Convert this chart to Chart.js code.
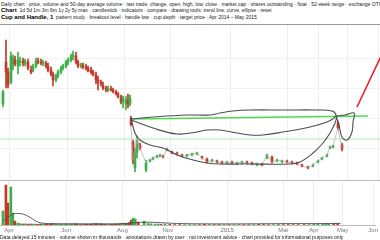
<!DOCTYPE html>
<html>
<head>
<meta charset="utf-8">
<script src="https://cdn.jsdelivr.net/npm/chart.js@4.4.1/dist/chart.umd.min.js"></script>
<style>
html, body { margin: 0; padding: 0; background: #fff; width: 380px; height: 240px; overflow: hidden; font-family: "Liberation Sans", Arial, sans-serif; }
#head { position: absolute; left: 0; top: 0; width: 380px; height: 24px; border-bottom: 1px solid #999; overflow: hidden; }
.row { position: absolute; left: 1px; white-space: nowrap; font-size: 5px; line-height: 6px; color: #222; }
.row b { color: #000; font-size: 6px; }
#pricebox { position: absolute; left: 0; top: 25px; width: 380px; height: 155px; }
#sep { position: absolute; left: 0; top: 180px; width: 380px; height: 1px; background: #bbb; }
#volbox { position: absolute; left: 0; top: 181px; width: 380px; height: 59px; }
#foot { position: absolute; left: 0; top: 235px; width: 380px; white-space: nowrap; overflow: hidden; font-size: 5px; line-height: 5px; color: #111; }
</style>
</head>
<body>
<div id="head">
  <div class="row" style="top:1px">Daily chart &middot; price, volume and 50-day average volume &middot; last trade, change, open, high, low, close &middot; market cap &middot; shares outstanding &middot; float &middot; 52-week range &middot; exchange OTC</div>
  <div class="row" style="top:7px"><b>Chart</b> &nbsp;1d 5d 1m 3m 6m 1y 2y 5y max &middot; candlestick &middot; indicators &middot; compare &middot; drawing tools: trend line, curve, ellipse &middot; reset</div>
  <div class="row" style="top:14px"><b>Cup and Handle, 1</b> &nbsp;pattern study &middot; breakout level &middot; handle low &middot; cup depth &middot; target price &middot; Apr 2014 &ndash; May 2015</div>
</div>
<div id="pricebox"><canvas id="priceChart"></canvas></div>
<div id="sep"></div>
<div id="volbox"><canvas id="volChart"></canvas></div>
<div id="foot">Data delayed 15 minutes &middot; volume shown in thousands &middot; annotations drawn by user &middot; not investment advice &middot; chart provided for informational purposes only</div>

<script>
// candles: position on the time axis and OHLC prices
var candleT = [3, 6, 8, 11, 13, 15, 18, 20, 23, 25, 28, 31, 33, 36, 38, 41, 43, 46, 48, 51,
    53, 56, 58, 61, 63, 66, 68, 71, 73, 76, 78, 81, 83, 86, 88, 91, 93, 96, 98, 101,
    103, 106, 108, 111, 113, 116, 118, 121, 123, 126, 128, 130,
    131, 133, 135, 137, 140, 146, 150, 153, 157, 160, 163, 167, 172, 177, 182, 187, 192, 197,
    202, 207, 212, 217, 222, 227, 232, 237, 242, 247, 252, 257, 262, 267, 272, 277, 282, 287,
    292, 297, 302, 308, 313, 318, 322, 327, 330, 333, 338, 342];
var openP = [7.6, 11.8, 10.8, 9.8, 11.6, 12.0, 11.4, 11.8, 11.9, 11.6, 11.8, 11.0, 11.0, 11.4, 11.9, 11.8, 11.7, 11.7, 11.4, 11.0,
    10.6, 10.0, 10.4, 10.8, 11.2, 11.4, 11.8, 12.0, 12.3, 12.4, 11.8, 11.4, 11.5, 11.3, 11.2, 11.0, 10.8, 10.5, 10.0, 9.8,
    9.4, 9.2, 9.0, 9.1, 9.0, 8.8, 8.6, 8.3, 7.8, 7.6, 8.0, 7.6,
    6.2, 3.8, 1.2, 2.8, 3.5, 1.0, 1.9, 2.1, 2.3, 2.4, 2.4, 3.0, 2.8, 2.7, 2.5, 2.4,
    2.5, 2.6, 2.3, 2.1, 1.9, 1.9, 1.8, 1.7, 1.8, 1.6, 1.7, 1.8, 1.7, 1.5, 1.6, 2.2, 2.3, 1.9, 1.8, 1.9,
    1.8, 1.7, 1.5, 1.3, 1.4, 1.8, 2.1, 2.4, 3.2, 3.3, 5.7, 3.5];
var highP = [9.0, 14.0, 11.2, 12.8, 12.5, 12.4, 12.8, 12.3, 12.2, 12.1, 12.1, 11.4, 11.6, 12.2, 12.2, 12.1, 12.0, 11.9, 11.7, 11.3,
    10.8, 10.6, 11.0, 11.4, 11.6, 12.0, 12.2, 12.6, 12.9, 12.8, 12.0, 11.7, 11.7, 11.6, 11.4, 11.3, 11.0, 10.8, 10.4, 10.0,
    9.8, 9.4, 9.4, 9.4, 9.2, 9.0, 8.8, 8.5, 8.4, 8.4, 8.6, 8.5,
    6.4, 4.0, 3.2, 4.4, 3.7, 2.0, 2.1, 2.3, 2.5, 2.6, 2.5, 3.2, 2.9, 2.8, 2.6, 2.6,
    2.7, 2.8, 2.4, 2.2, 2.1, 2.0, 1.9, 1.9, 1.9, 1.8, 1.9, 1.9, 1.8, 1.7, 1.7, 2.6, 2.4, 2.1, 2.0, 2.0,
    1.9, 1.8, 1.6, 1.4, 1.6, 2.0, 2.3, 2.6, 3.4, 3.5, 5.9, 3.7];
var lowP = [7.3, 9.2, 9.2, 9.6, 11.0, 11.4, 10.6, 11.4, 11.4, 11.4, 11.0, 10.6, 10.8, 11.2, 11.6, 11.5, 11.4, 11.2, 10.8, 10.4,
    9.4, 9.8, 10.2, 10.6, 11.0, 11.2, 11.5, 11.8, 12.0, 11.6, 11.2, 11.2, 11.1, 11.0, 10.8, 10.6, 10.4, 9.6, 9.0, 9.4,
    9.0, 8.8, 8.8, 8.9, 8.7, 8.5, 8.2, 7.6, 7.2, 7.0, 7.2, 7.4,
    5.4, 1.6, 0.8, 2.2, 3.0, 0.8, 1.8, 2.0, 2.2, 2.3, 2.2, 2.9, 2.6, 2.5, 2.3, 2.3,
    2.4, 2.5, 2.1, 1.7, 1.8, 1.7, 1.6, 1.6, 1.6, 1.5, 1.6, 1.6, 1.5, 1.4, 1.4, 2.1, 1.7, 1.8, 1.7, 1.7,
    1.6, 1.5, 1.3, 1.1, 1.3, 1.7, 2.0, 2.3, 3.1, 3.2, 5.0, 2.9];
var closeP = [8.8, 10.8, 9.5, 12.4, 12.2, 11.6, 12.0, 11.9, 11.7, 11.9, 11.2, 10.8, 11.4, 11.9, 11.8, 11.7, 11.8, 11.4, 11.0, 10.6,
    10.0, 10.4, 10.8, 11.2, 11.4, 11.8, 12.0, 12.3, 12.5, 11.8, 11.4, 11.5, 11.3, 11.2, 10.9, 10.8, 10.5, 10.0, 9.8, 9.6,
    9.2, 9.0, 9.2, 9.0, 8.8, 8.6, 8.3, 7.8, 8.2, 8.0, 7.6, 8.2,
    5.5, 2.0, 2.8, 4.0, 3.2, 1.7, 2.0, 2.2, 2.4, 2.5, 2.3, 3.1, 2.7, 2.6, 2.4, 2.5,
    2.6, 2.7, 2.2, 1.8, 2.0, 1.8, 1.7, 1.8, 1.7, 1.7, 1.8, 1.7, 1.6, 1.6, 1.5, 2.5, 1.8, 2.0, 1.9, 1.8,
    1.7, 1.6, 1.4, 1.2, 1.5, 1.9, 2.2, 2.5, 3.3, 3.4, 5.2, 3.1];
var volume = [14, 40, 22, 38, 12, 4, 2, 1.5, 1, 1.2, 1, 0.8, 1, 0.8, 0.6, 0.8, 0.6, 0.7, 0.8, 1,
    1.5, 0.8, 0.6, 0.7, 0.6, 0.8, 0.7, 0.9, 1, 1.2, 0.8, 0.6, 0.5, 0.6, 0.7, 0.6, 0.8, 1.2, 1.4, 0.8,
    0.9, 0.7, 0.6, 0.5, 0.6, 0.8, 0.9, 1.2, 1.6, 1.8, 1.4, 1.6,
    2.5, 5, 7, 6, 3, 4, 1.5, 1.2, 1, 0.8, 0.6, 1, 0.6, 0.5, 0.4, 0.5, 0.4, 0.3, 0.4, 0.6,
    0.4, 0.3, 0.4, 0.3, 0.4, 0.5, 0.4, 0.3, 0.4, 0.3, 0.6, 0.8, 0.5, 0.4, 0.6, 0.5, 0.4, 0.3,
    0.3, 0.4, 0.3, 0.6, 0.8, 0.9, 1.2, 1.0, 1.5, 1.2];

// average volume curve
var volAvgT = [4, 7, 10, 13, 18, 23, 28, 33, 38, 43, 50, 70, 100, 125, 135, 150, 165, 180, 220, 260, 290, 320, 345];
var volAvg = [4, 7, 9, 11, 11.5, 11, 9, 6, 3, 1.8, 1.4, 1.2, 1.2, 1.3, 2.2, 2.8, 2.2, 1.5, 1.1, 1.2, 1.4, 1.4, 1.6];

// hand drawn annotations (time, price)
var ellipseT = [131, 153, 187, 210, 220, 233, 250, 283, 317, 332, 336, 334, 327, 310, 283, 263, 250, 237, 220, 207, 197, 177, 153, 131];
var ellipseP = [6.1, 6.3, 6.5, 6.5, 6.7, 6.9, 7.0, 7.0, 7.0, 6.9, 6.5, 6.2, 5.8, 5.3, 4.8, 4.5, 4.5, 4.7, 5.0, 5.0, 4.8, 4.6, 5.2, 6.0];
var cupT = [131, 135, 140, 150, 163, 177, 193, 207, 220, 250, 290, 300, 313, 323, 330, 335, 337];
var cupP = [6.2, 4.7, 4.0, 3.5, 3.2, 2.5, 2.0, 1.7, 1.6, 1.6, 1.6, 1.8, 2.7, 3.7, 4.7, 5.7, 6.4];
var handleT = [336, 339, 342, 347, 352, 353, 354, 345, 336];
var handleP = [6.4, 5.5, 4.3, 4.0, 4.8, 5.8, 6.7, 6.5, 6.4];
var resistT = [131, 368];
var resistP = [6.1, 6.4];
var supportT = [0, 380];
var supportP = [4.1, 4.1];
var breakoutT = [357, 384];
var breakoutP = [7.3, 13.0];

// time axis labels
var tickT = [9, 67, 124, 170, 230, 287, 318, 347, 378];
var tickLabels = ['Apr', 'Jun', 'Aug', 'Nov', '2015', 'Mar', 'Apr', 'May', 'Jun'];
var priceGrid = [3.2, 6.2, 9.2, 12.2];

var GREEN = '#3fae49';
var RED = '#c0392b';
var GRAY = '#4d4d4d';

function pts(ts, vs) {
    return ts.map(function (t, i) { return { x: t, y: vs[i] }; });
}
var candleColors = candleT.map(function (t, i) { return closeP[i] >= openP[i] ? GREEN : RED; });

function lineSet(data, color, width, tension) {
    return {
        type: 'line', data: data, borderColor: color, borderWidth: width,
        pointRadius: 0, tension: tension, fill: false
    };
}

var xScale = {
    type: 'linear', min: 0, max: 380, offset: false,
    grid: { color: '#efefef', drawTicks: false, offset: false },
    border: { display: false },
    ticks: { display: false, autoSkip: false, maxRotation: 0 },
    afterBuildTicks: function (scale) {
        scale.ticks = tickT.map(function (v) { return { value: v }; });
    },
    afterFit: function (scale) { scale.height = 0; }
};

Chart.defaults.animation = false;
Chart.defaults.font.family = '"Liberation Sans", Arial, sans-serif';

new Chart(document.getElementById('priceChart').getContext('2d'), {
    type: 'bar',
    data: {
        datasets: [
            lineSet(pts(breakoutT, breakoutP), '#e8212f', 1.6, 0),
            lineSet(pts(handleT, handleP), GRAY, 1.1, 0.4),
            lineSet(pts(cupT, cupP), GRAY, 1.1, 0.4),
            lineSet(pts(ellipseT, ellipseP), GRAY, 1.1, 0.4),
            lineSet(pts(resistT, resistP), '#52d652', 1.6, 0),
            lineSet(pts(supportT, supportP), '#b3e6b3', 1, 0),
            lineSet(pts(candleT.slice(52), closeP.slice(52)), '#a8a8a8', 0.7, 0),
            {
                data: candleT.map(function (t, i) { return { x: t, y: [openP[i], closeP[i]] }; }),
                backgroundColor: candleColors, barThickness: 2, grouped: false, minBarLength: 1
            },
            {
                data: candleT.map(function (t, i) { return { x: t, y: [lowP[i], highP[i]] }; }),
                backgroundColor: candleColors, barThickness: 1, grouped: false
            }
        ]
    },
    options: {
        responsive: true,
        maintainAspectRatio: false,
        devicePixelRatio: 1,
        events: [],
        layout: { padding: 0 },
        plugins: { legend: { display: false }, tooltip: { enabled: false } },
        scales: {
            x: xScale,
            y: {
                min: 0, max: 15.5,
                grid: { color: '#f2f2f2', drawTicks: false },
                border: { display: false },
                ticks: { display: false },
                afterBuildTicks: function (scale) {
                    scale.ticks = priceGrid.map(function (v) { return { value: v }; });
                },
                afterFit: function (scale) { scale.width = 0; }
            }
        }
    }
});

new Chart(document.getElementById('volChart').getContext('2d'), {
    type: 'bar',
    data: {
        datasets: [
            lineSet(pts(volAvgT, volAvg), GRAY, 0.9, 0.4),
            {
                data: pts(candleT, volume),
                backgroundColor: candleColors, barThickness: 2, grouped: false
            }
        ]
    },
    options: {
        responsive: true,
        maintainAspectRatio: false,
        devicePixelRatio: 1,
        events: [],
        layout: { padding: 0 },
        plugins: { legend: { display: false }, tooltip: { enabled: false } },
        scales: {
            x: Object.assign({}, xScale, {
                border: { display: true, color: '#bbb' },
                ticks: {
                    display: true, autoSkip: false, maxRotation: 0, padding: 2,
                    color: '#777', font: { size: 6 },
                    callback: function (v, i) { return tickLabels[i]; }
                },
                afterFit: function (scale) { scale.height = 15; }
            }),
            y: {
                display: false, min: 0, max: 44
            }
        }
    }
});
</script>
</body>
</html>
